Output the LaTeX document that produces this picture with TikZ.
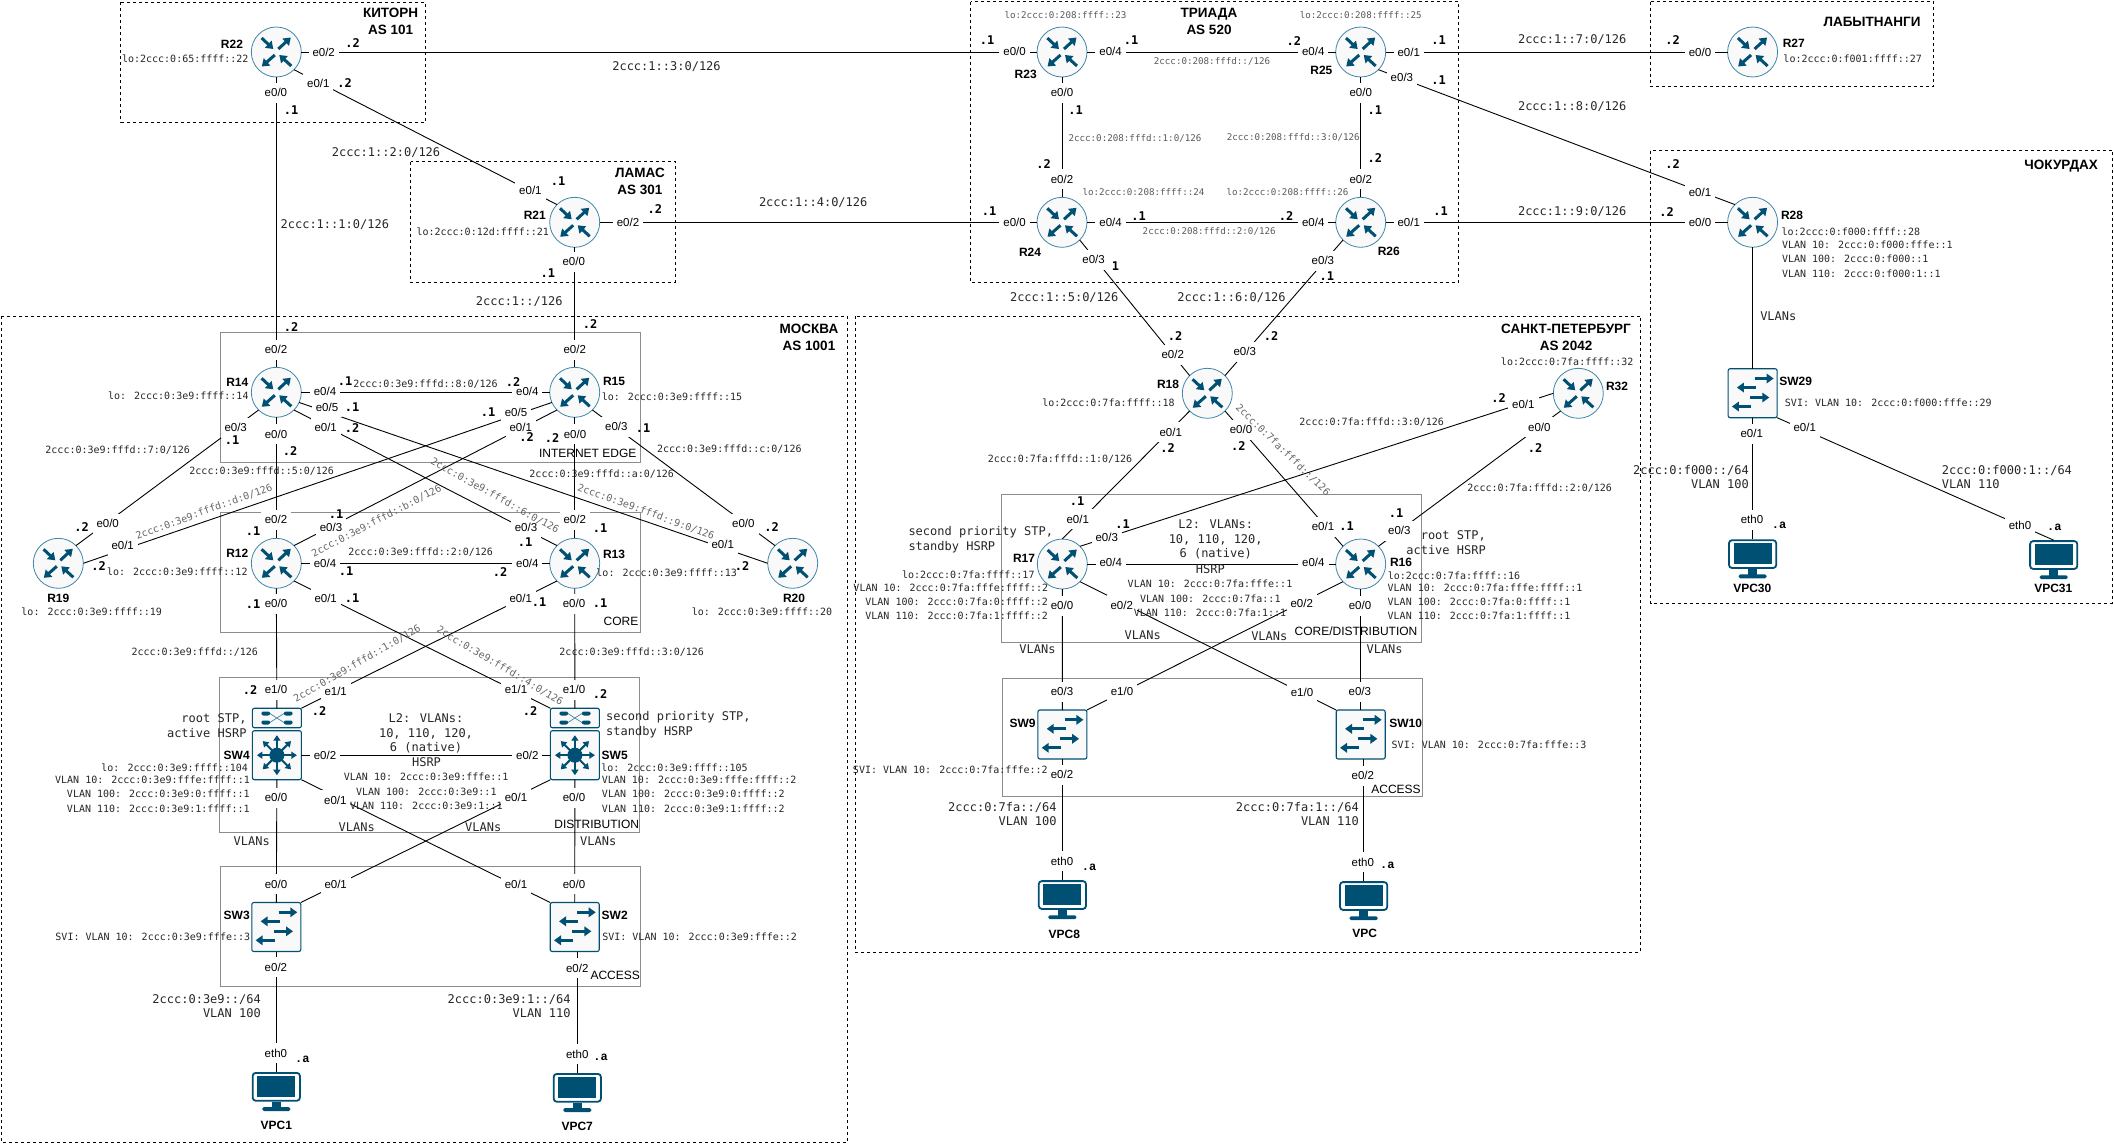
\documentclass[tikz,border=0pt]{standalone}
\usepackage{fontspec}
\setmainfont{Liberation Sans}
\newfontfamily\monofam{DejaVu Sans Mono}
\newfontfamily\slabfam{Liberation Mono}
\usetikzlibrary{arrows.meta,positioning}

\definecolor{devblue}{HTML}{005073}
\definecolor{devline}{HTML}{3F86A6}
\definecolor{devfill}{HTML}{F9F9F9}
\definecolor{zonegray}{HTML}{8C8C8C}

\newcommand{\routerarrows}{\begin{scope}[shift={(path picture bounding box.center)}]
	\draw[bigarrow] (-14.7,-14) -- (-3,-3);
	\draw[bigarrow] (2,-3) -- (14.5,-14.5);
	\draw[bigarrow] (-1.5,3) -- (-14.5,14.5);
	\draw[bigarrow] (15,14) -- (3,3);
	\end{scope}}
\newcommand{\switcharrows}{\begin{scope}[shift={(path picture bounding box.center)}]
	\draw[bigarrow] (2.3,-14.7) -- (21,-14.7);
	\draw[bigarrow] (3.3,-5.7) -- (-15.7,-5.7);
	\draw[bigarrow] (-2.3,4.3) -- (16.7,4.3);
	\draw[bigarrow] (-1.3,13.3) -- (-20.7,13.3);
	\end{scope}}
\newcommand{\stararrows}{\begin{scope}[shift={(path picture bounding box.center)}]
	\foreach \a in {0,45,...,315} \draw[smallarrow] (0,0) -- (\a:20);
	\fill[devblue] (0,0) circle (7.5);
	\end{scope}}
\newcommand{\crossbars}{\begin{scope}[shift={(path picture bounding box.center)}]
	\draw[devline,line width=.7pt] (-7,-4.5) -- (7,4.5) (-7,4.5) -- (7,-4.5);
	\foreach \xa/\ya in {-15.5/-6.5,7/-6.5,-15.5/2.5,7/2.5} \fill[devblue] (\xa,\ya) rectangle ++(8.7,4);
	\end{scope}}
\newcommand{\pcscreen}{\begin{scope}[shift={(path picture bounding box.center)}]
	\draw[devblue,line width=1.8pt,rounded corners=3pt] (-23.6,-18.6) rectangle (23.6,9.2);
	\fill[devblue] (-19,-15.5) rectangle (19,5.5);
	\fill[devblue] (-4.5,10) rectangle (4.5,16);
	\fill[devblue,rounded corners=1.5pt] (-14,15.6) rectangle (14,19.5);
	\end{scope}}

\tikzset{
	bigarrow/.style={draw=devblue,line width=3pt,-{Triangle[length=7pt,width=9.5pt]}},
	smallarrow/.style={draw=devblue,line width=2pt,-{Triangle[length=5.5pt,width=7pt]}},
	router/.style={circle,draw=devline,fill=devfill,line width=.8pt,minimum size=50pt,inner sep=0pt,outer sep=0pt,path picture={\routerarrows}},
	switchbox/.style={rectangle,rounded corners=2pt,draw=devblue,fill=devfill,line width=1.1pt,minimum width=49pt,minimum height=49pt,inner sep=0pt,outer sep=0pt,path picture={\switcharrows}},
	coremain/.style={switchbox,path picture={\stararrows}},
	coretop/.style={rectangle,rounded corners=2pt,draw=devblue,fill=devfill,line width=1.1pt,minimum width=49pt,minimum height=19.5pt,inner sep=0pt,outer sep=0pt,path picture={\crossbars}},
	pcbox/.style={rectangle,fill=white,minimum width=50pt,minimum height=39pt,inner sep=0pt,outer sep=0pt,path picture={\pcscreen}},
	link/.style={draw=black,line width=.9pt},
	zone/.style={draw=black,line width=.8pt,dash pattern=on 3pt off 3pt},
	layer/.style={draw=zonegray,line width=.9pt},
	ifc/.style={fill=white,font=\fontsize{11.5}{14}\selectfont,inner xsep=4pt,inner ysep=0pt,minimum height=20pt},
	devname/.style={font=\bfseries\fontsize{12}{14}\selectfont,inner sep=0pt},
	areaname/.style={font=\bfseries\fontsize{13.5}{17}\selectfont,inner sep=0pt,align=center},
	layername/.style={font=\fontsize{12}{14}\selectfont,inner sep=0pt},
	hostpart/.style={font=\monofam\bfseries\fontsize{12}{14}\selectfont,inner sep=0pt},
	hostslab/.style={font=\slabfam\bfseries\fontsize{12}{14}\selectfont,inner sep=0pt},
	addr/.style={font=\monofam\fontsize{10}{12}\selectfont,inner sep=0pt,text=black!85},
	addrbig/.style={font=\monofam\fontsize{12}{14.5}\selectfont,inner sep=0pt,text=black!85},
	addrtiny/.style={font=\monofam\fontsize{9.2}{11}\selectfont,inner sep=0pt,text=black!65},
	addrslant/.style={font=\monofam\fontsize{10}{12}\selectfont,inner sep=0pt,text=black!60},
}

\begin{document}
\begin{tikzpicture}[x=1pt,y=-1pt]
	\useasboundingbox (0,0) rectangle (2114,1143);

	\foreach \xa/\ya/\xb/\yb in {120.5/2/425/122, 410.7/161.7/675/282.3, 970.5/1.7/1458.5/282.3, 1650.7/1.7/1933.5/86.3, 1650.7/150.7/2112.8/603, 1/316/847.7/1142, 855.7/316/1640.3/952.3}
		\draw[zone] (\xa,\ya) rectangle (\xb,\yb);
	\foreach \xa/\ya/\xb/\yb in {220.3/332.3/640.3/462.3, 220.3/512.3/640.3/632.3, 219.3/677.3/639.3/832.3, 220.3/866.3/640.5/986.3, 1001.7/494.3/1421.7/642.3, 1002/678.3/1422/796}
		\draw[layer] (\xa,\ya) rectangle (\xb,\yb);

	\node[router] (R22) at (276.3,52) {};
	\node[router] (R21) at (574.7,222.3) {};
	\node[router] (R23) at (1062,52) {};
	\node[router] (R25) at (1360.7,52) {};
	\node[router] (R24) at (1062,222.3) {};
	\node[router] (R26) at (1360.7,222.3) {};
	\node[router] (R27) at (1752.6,52) {};
	\node[router] (R28) at (1752.6,222.3) {};
	\node[router] (R14) at (276.3,392.3) {};
	\node[router] (R15) at (574.7,392.3) {};
	\node[router] (R12) at (276.3,563.3) {};
	\node[router] (R13) at (574.7,563.3) {};
	\node[router] (R19) at (58.3,563.3) {};
	\node[router] (R20) at (792.7,563.3) {};
	\node[router] (R18) at (1207.3,393.3) {};
	\node[router] (R32) at (1578.3,393.3) {};
	\node[router] (R17) at (1062.3,564) {};
	\node[router] (R16) at (1360.7,564) {};

	\node[coretop] (SW4top) at (276.9,718) {};
	\node[coremain] (SW4) at (276.9,755.2) {};
	\node[coretop] (SW5top) at (574.9,718) {};
	\node[coremain] (SW5) at (574.9,755.2) {};
	\node[switchbox] (SW3) at (276.3,927) {};
	\node[switchbox] (SW2) at (574.7,927) {};
	\node[switchbox] (SW9) at (1062.4,734.5) {};
	\node[switchbox] (SW10) at (1360.7,734.5) {};
	\node[switchbox] (SW29) at (1752.6,393.2) {};

	\node[pcbox] (VPC1) at (276.3,1091.5) {};
	\node[pcbox] (VPC7) at (577.3,1092.5) {};
	\node[pcbox] (VPC8) at (1062.4,899.7) {};
	\node[pcbox] (VPC) at (1363.6,900.7) {};
	\node[pcbox] (VPC30) at (1752.6,558.8) {};
	\node[pcbox] (VPC31) at (2053.7,559.7) {};

	\foreach \a/\b in {R22.east/R23.west, R22.south/R14.north, R22.-45/R21.135, R21.east/R24.west, R21.south/R15.north,
		R23.east/R25.west, R23.south/R24.north, R25.south/R26.north, R24.east/R26.west, R25.east/R27.west, R26.east/R28.west,
		R25.-45/R28.135, R24.-45/R18.135, R26.225/R18.45, R28.south/SW29.north, SW29.south/VPC30.north, SW29.south east/VPC31.north,
		R14.east/R15.west, R14.south/R12.north, R15.south/R13.north, R12.east/R13.west,
		R14.225/R19.45, R15.204/R19.east, R14.-24/R20.west, R15.-45/R20.135, R14.-45/R13.135, R15.225/R12.45,
		R12.south/SW4top.north, R13.south/SW5top.north, R12.-45/SW5top.north west, R13.225/SW4top.north east,
		SW4.east/SW5.west, SW4.south/SW3.north, SW5.south/SW2.north, SW4.south east/SW2.north west, SW5.south west/SW3.north east,
		SW3.south/VPC1.north,
		R18.225/R17.north, R18.-45/R16.135, R32.west/R17.45, R32.225/R16.45, R17.east/R16.west, R17.south/SW9.north, R16.south/SW10.north,
		R17.-45/SW10.north west, R16.225/SW9.north east, SW9.south/VPC8.north}
		\draw[link] (\a) -- (\b);
	\draw[link] (VPC7.north) -- (VPC7.north |- SW2.south);
	\draw[link] (VPC.north) -- (VPC.north |- SW10.south);

	\foreach \px/\py/\t [count=\n] in {
		323.7/52.7/{e0/2}, 318.3/83.7/{e0/1}, 275.9/92.7/{e0/0}, 530.4/190.7/{e0/1}, 628/222/{e0/2}, 573.7/261.7/{e0/0},
		1014.6/51/{e0/0}, 1110.6/51/{e0/4}, 1062/92.7/{e0/0}, 1062/179/{e0/2}, 1014.6/222/{e0/0}, 1110.6/222/{e0/4}, 1093.6/259.7/{e0/3},
		1313.2/51/{e0/4}, 1408.7/52/{e0/1}, 1401.9/77.7/{e0/3}, 1360.7/92.7/{e0/0}, 1360.7/179/{e0/2}, 1313.2/222/{e0/4}, 1408.7/222/{e0/1}, 1322.9/260.7/{e0/3},
		1700/52/{e0/0}, 1700/192.7/{e0/1}, 1700/222/{e0/0},
		276/349.7/{e0/2}, 325/391.7/{e0/4}, 327/407.3/{e0/5}, 325.7/427.7/{e0/1}, 235.7/427.7/{e0/3}, 276/434/{e0/0},
		276/519.7/{e0/2}, 331/527.7/{e0/3}, 325/563/{e0/4}, 325.7/598.7/{e0/1}, 276/603.7/{e0/0},
		107.7/523.7/{e0/0}, 122.7/545.7/{e0/1},
		574.7/349.7/{e0/2}, 527.3/391.7/{e0/4}, 516/412.7/{e0/5}, 520.7/427.7/{e0/1}, 575/434/{e0/0}, 616.3/426.7/{e0/3},
		574.7/519.7/{e0/2}, 526/527.7/{e0/3}, 527.3/563/{e0/4}, 520.7/598.7/{e0/1}, 574/603.7/{e0/0},
		743.3/523.7/{e0/0}, 722.7/544.3/{e0/1},
		276/689.7/{e1/0}, 335.7/691/{e1/1}, 325/755/{e0/2}, 335.3/800/{e0/1}, 276/797.7/{e0/0},
		516/689.7/{e1/1}, 574/689.7/{e1/0}, 527.3/755/{e0/2}, 516/797.7/{e0/1}, 574/797.7/{e0/0},
		276/884/{e0/0}, 335.7/884/{e0/1}, 516/884.7/{e0/1}, 574/884/{e0/0}, 275.9/967.3/{e0/2}, 577.2/968.3/{e0/2},
		275.9/1053/{eth0}, 577.2/1054/{eth0},
		1172.7/354.7/{e0/2}, 1244.7/351.7/{e0/3}, 1170.7/432/{e0/1}, 1241/429.7/{e0/0}, 1523.3/404.7/{e0/1}, 1539.3/427/{e0/0},
		1323/526.7/{e0/1}, 1399.3/530.7/{e0/3}, 1313.3/562.7/{e0/4}, 1301.7/603.7/{e0/2}, 1360/605.7/{e0/0},
		1077.7/519/{e0/1}, 1106.7/537.7/{e0/3}, 1110.7/562.7/{e0/4}, 1121.7/605/{e0/2}, 1062/605.7/{e0/0},
		1062/691.7/{e0/3}, 1122/691.7/{e1/0}, 1302/692.7/{e1/0}, 1359.8/691.7/{e0/3}, 1062/774.7/{e0/2}, 1362.8/775.7/{e0/2},
		1062/861/{eth0}, 1362.8/862/{eth0},
		1751.7/433.7/{e0/1}, 1804.7/427.7/{e0/1}, 1752/519.7/{eth0}, 2020/525.7/{eth0}}
		\node[ifc] (ifc\n) at (\px,\py) {\t};

	\foreach \px/\py/\t [count=\n] in {
		232/44.7/R22, 534.8/215.7/R21, 1025.7/74.7/R23, 1321.4/70.7/R25, 1030/252.7/R24, 1388.8/251.7/R26, 1793.8/43.7/R27, 1792/215.7/R28,
		237.3/382.7/R14, 237.3/553.7/R12, 58.3/598.3/R19, 614/381.7/R15, 614/554.7/R13, 794/598.3/R20,
		236.7/755.7/SW4, 236.7/915.7/SW3, 614.7/755.7/SW5, 614.7/915.7/SW2, 276.4/1125.7/VPC1, 577.2/1126.7/VPC7,
		1168/384.7/R18, 1617/386.7/R32, 1401/562/R16, 1024/558.7/R17, 1022.5/723.7/SW9, 1405.7/723.7/SW10,
		1064.3/934.7/VPC8, 1364.7/933.7/VPC, 1795.7/381.3/SW29, 1752.3/588.3/VPC30, 2053.3/588.3/VPC31}
		\node[devname] (name\n) at (\px,\py) {\t};

	\node[areaname] (areaKitorn) at (390.6,21.5) {КИТОРН\\AS 101};
	\node[areaname] (areaLamas) at (640,181.5) {ЛАМАС\\AS 301};
	\node[areaname] (areaTriada) at (1209,21.8) {ТРИАДА\\AS 520};
	\node[areaname] (areaLabyt) at (1872,22) {ЛАБЫТНАНГИ};
	\node[areaname] (areaChok) at (2061.2,166) {ЧОКУРДАХ};
	\node[areaname] (areaMoscow) at (809,337.8) {МОСКВА\\AS 1001};
	\node[areaname] (areaSpb) at (1566,337.8) {САНКТ-ПЕТЕРБУРГ\\AS 2042};

	\foreach \px/\py/\t [count=\n] in {
		587.7/453.7/{INTERNET EDGE}, 621/621.7/{CORE}, 596.7/824/{DISTRIBUTION}, 615.2/975.7/{ACCESS}, 1356/631.7/{CORE/DISTRIBUTION}, 1396/789.7/{ACCESS}}
		\node[layername] (layer\n) at (\px,\py) {\t};

	\foreach \px/\py/\t [count=\n] in {
		352.7/43.3/.2, 344.6/83.3/.2, 291/110.3/.1, 558/181.3/.1, 654.9/209.3/.2, 547.8/273.3/.1, 291/327.3/.2, 590/324.3/.2,
		987/40.3/.1, 1131/40.3/.1, 1293.8/41.3/.2, 1438.7/40.3/.1, 1438.7/80.3/.1, 1075.7/110.3/.1, 1374.8/110.3/.1, 1043.7/164/.2, 1374.8/158.3/.2,
		989/211.3/.1, 1138.7/216.3/.1, 1286/216.3/.2, 1440.7/211.3/.1, 1115.4/266/1, 1326.8/276.3/.1,
		1672.6/40.3/.2, 1672.6/164/.2, 1666.6/212.3/.2,
		345/381.3/.1, 352/407.3/.1, 352/428.3/.2, 232/440.3/.1, 290/451.3/.2, 81.7/527.3/.2, 336/514.3/.1, 253/531.3/.1, 98.7/566.3/.2, 346/571.3/.1, 352/598.3/.1, 253/603.7/.1,
		513/382.3/.2, 488/412.3/.1, 526.7/437/.2, 552/438.3/.2, 643/428/.1, 600/528.3/.1, 525/542.3/.1, 500/572.3/.2, 771.7/527.3/.2, 742/566.3/.2, 539/602/.1, 600/603.3/.1,
		250/689.7/.2, 319/711.3/.2, 600/694/.2, 530/711.3/.2,
		1175/336.3/.2, 1271/336/.2, 1167.7/448.3/.2, 1238.3/446.3/.2, 1498.7/398/.2, 1535/448.3/.2,
		1346.7/526.3/.1, 1396/513.3/.1, 1077/501.3/.1, 1122.7/524.3/.1}
		\node[hostpart] (dot\n) at (\px,\py) {\t};
	\foreach \px/\py [count=\n] in {302.4/1059, 600.5/1057, 1089/867, 1387.3/865, 1779/525.7, 2054.3/527.7}
		\node[hostslab] (hosta\n) at (\px,\py) {.a};

	\foreach \px/\py/\t [count=\n] in {
		666.5/67/{2ccc:1::3:0/126}, 386/153/{2ccc:1::2:0/126}, 334.8/225/{2ccc:1::1:0/126}, 519.2/302/{2ccc:1::/126}, 813.2/203/{2ccc:1::4:0/126},
		1064.2/298/{2ccc:1::5:0/126}, 1231.5/298/{2ccc:1::6:0/126}, 1572.2/40/{2ccc:1::7:0/126}, 1572.2/107/{2ccc:1::8:0/126}, 1572.2/212/{2ccc:1::9:0/126},
		356.7/827.3/{VLANs}, 251.7/841/{VLANs}, 483.3/827/{VLANs}, 598.3/841/{VLANs}, 1269.3/636/{VLANs}, 1037.5/649/{VLANs}, 1384.6/649/{VLANs}, 1142.7/635/{VLANs}, 1778.3/316/{VLANs},
		426.5/762/{HSRP}, 1210.3/569/{HSRP}}
		\node[addrbig] (big\n) at (\px,\py) {\t};

	\foreach \px/\py/\t [count=\n] in {
		185.3/58.7/{lo:2ccc:0:65:ffff::22}, 482.8/231.3/{lo:2ccc:0:12d:ffff::21}, 1852.7/58.7/{lo:2ccc:0:f001:ffff::27}, 1850.8/231.3/{lo:2ccc:0:f000:ffff::28},
		178.3/395.7/{lo: 2ccc:0:3e9:ffff::14}, 177.3/571.7/{lo: 2ccc:0:3e9:ffff::12}, 91.7/611.7/{lo: 2ccc:0:3e9:ffff::19}, 672/396.3/{lo: 2ccc:0:3e9:ffff::15}, 666.7/572.3/{lo: 2ccc:0:3e9:ffff::13}, 762/611.7/{lo: 2ccc:0:3e9:ffff::20},
		117.7/450.3/{2ccc:0:3e9:fffd::7:0/126}, 261.7/470.7/{2ccc:0:3e9:fffd::5:0/126}, 601.7/473.7/{2ccc:0:3e9:fffd::a:0/126}, 729.3/448.7/{2ccc:0:3e9:fffd::c:0/126},
		425.5/384.3/{2ccc:0:3e9:fffd::8:0/126}, 420.7/552.3/{2ccc:0:3e9:fffd::2:0/126}, 194.8/651.7/{2ccc:0:3e9:fffd::/126}, 631.7/651.7/{2ccc:0:3e9:fffd::3:0/126},
		426.2/776.7/{VLAN 10: 2ccc:0:3e9:fffe::1}, 426.3/791.7/{VLAN 100: 2ccc:0:3e9::1}, 426.3/805.7/{VLAN 110: 2ccc:0:3e9:1::1},
		174.7/767.7/{lo: 2ccc:0:3e9:ffff::104}, 152.5/779.3/{VLAN 10: 2ccc:0:3e9:fffe:ffff::1}, 158.3/793.7/{VLAN 100: 2ccc:0:3e9:0:ffff::1}, 158.3/808.3/{VLAN 110: 2ccc:0:3e9:1:ffff::1},
		674.5/767.7/{lo: 2ccc:0:3e9:ffff::105}, 699.2/779.3/{VLAN 10: 2ccc:0:3e9:fffe:ffff::2}, 693.3/793.7/{VLAN 100: 2ccc:0:3e9:0:ffff::2}, 693.3/808.3/{VLAN 110: 2ccc:0:3e9:1:ffff::2},
		152.8/936.3/{SVI: VLAN 10: 2ccc:0:3e9:fffe::3}, 699.7/936.3/{SVI: VLAN 10: 2ccc:0:3e9:fffe::2},
		1108.5/402.3/{lo:2ccc:0:7fa:ffff::18}, 1567.2/361.3/{lo:2ccc:0:7fa:ffff::32}, 968.3/574.3/{lo:2ccc:0:7fa:ffff::17}, 1454/575.3/{lo:2ccc:0:7fa:ffff::16},
		1060/458.7/{2ccc:0:7fa:fffd::1:0/126}, 1371.7/422.3/{2ccc:0:7fa:fffd::3:0/126}, 1539.7/488.3/{2ccc:0:7fa:fffd::2:0/126},
		950.8/587.3/{VLAN 10: 2ccc:0:7fa:fffe:ffff::2}, 956.7/601.3/{VLAN 100: 2ccc:0:7fa:0:ffff::2}, 956.7/616/{VLAN 110: 2ccc:0:7fa:1:ffff::2},
		1485/587.3/{VLAN 10: 2ccc:0:7fa:fffe:ffff::1}, 1479/601.3/{VLAN 100: 2ccc:0:7fa:0:ffff::1}, 1479/616/{VLAN 110: 2ccc:0:7fa:1:ffff::1},
		1210/583.3/{VLAN 10: 2ccc:0:7fa:fffe::1}, 1210.3/598.3/{VLAN 100: 2ccc:0:7fa::1}, 1210/612.3/{VLAN 110: 2ccc:0:7fa:1::1},
		950.3/769.7/{SVI: VLAN 10: 2ccc:0:7fa:fffe::2}, 1888.3/402.3/{SVI: VLAN 10: 2ccc:0:f000:fffe::29}}
		\node[addr] (addr\n) at (\px,\py) {\t};
	\node[addr,anchor=west] (svi10) at (1391.5,744.7) {SVI: VLAN 10: 2ccc:0:7fa:fffe::3};
	\node[addr,anchor=west] (vlan10r28) at (1781.8,244.3) {VLAN 10: 2ccc:0:f000:fffe::1};
	\node[addr,anchor=west] (vlan100r28) at (1781.8,258.7) {VLAN 100: 2ccc:0:f000::1};
	\node[addr,anchor=west] (vlan110r28) at (1781.8,273.3) {VLAN 110: 2ccc:0:f000:1::1};

	\foreach \px/\py/\t [count=\n] in {
		1065.5/14.7/{lo:2ccc:0:208:ffff::23}, 1360.7/14.7/{lo:2ccc:0:208:ffff::25}, 1143.5/191.7/{lo:2ccc:0:208:ffff::24}, 1287.5/191.7/{lo:2ccc:0:208:ffff::26},
		1212/61.7/{2ccc:0:208:fffd::/126}, 1135/138.7/{2ccc:0:208:fffd::1:0/126}, 1293.3/137.7/{2ccc:0:208:fffd::3:0/126}, 1209.2/231.7/{2ccc:0:208:fffd::2:0/126}}
		\node[addrtiny] (tiny\n) at (\px,\py) {\t};

	\node[addrslant,rotate=20] (slantD) at (204,511.7) {2ccc:0:3e9:fffd::d:0/126};
	\node[addrslant,rotate=27.5] (slantB) at (376.5,521) {2ccc:0:3e9:fffd::b:0/126};
	\node[addrslant,rotate=-29] (slantSix) at (495,495.8) {2ccc:0:3e9:fffd::6:0/126};
	\node[addrslant,rotate=-20] (slantNine) at (646,511.7) {2ccc:0:3e9:fffd::9:0/126};
	\node[addrslant,rotate=30] (slantOne) at (357,663.4) {2ccc:0:3e9:fffd::1:0/126};
	\node[addrslant,rotate=-30.6] (slantFour) at (500,665.8) {2ccc:0:3e9:fffd::4:0/126};
	\node[addrslant,rotate=-44] (slantSpb) at (1283,450) {2ccc:0:7fa:fffd::/126};

	\node[addrbig,align=right,anchor=east] (stpSW4) at (246.7,725.7) {root STP,\\active HSRP};
	\node[addrbig,align=left,anchor=west] (stpSW5) at (606,724.8) {second priority STP,\\standby HSRP};
	\node[addrbig,align=center] (trunkMsk) at (426,733.5) {L2: VLANs:\\10, 110, 120,\\6 (native)};
	\node[addrbig,align=right,anchor=east] (stpR16) at (1486,542.7) {root STP,\\active HSRP};
	\node[addrbig,align=left,anchor=west] (stpR17) at (908.3,539.5) {second priority STP,\\standby HSRP};
	\node[addrbig,align=center] (trunkSpb) at (1215.7,539.6) {L2: VLANs:\\10, 110, 120,\\6 (native)};

	\node[addrbig,align=right,anchor=east] (netVPC1) at (261,1006.3) {2ccc:0:3e9::/64\\VLAN 100};
	\node[addrbig,align=right,anchor=east] (netVPC7) at (570.7,1006.3) {2ccc:0:3e9:1::/64\\VLAN 110};
	\node[addrbig,align=right,anchor=east] (netVPC8) at (1056.7,814) {2ccc:0:7fa::/64\\VLAN 100};
	\node[addrbig,align=right,anchor=east] (netVPC) at (1359,814) {2ccc:0:7fa:1::/64\\VLAN 110};
	\node[addrbig,align=right,anchor=east] (netVPC30) at (1749,477) {2ccc:0:f000::/64\\VLAN 100};
	\node[addrbig,align=left,anchor=west] (netVPC31) at (1941.7,477) {2ccc:0:f000:1::/64\\VLAN 110};
\end{tikzpicture}
\end{document}
